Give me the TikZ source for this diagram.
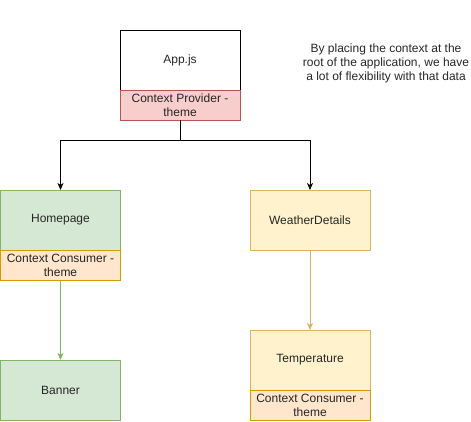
\documentclass[tikz,border=0pt]{standalone}
\usepackage{fontspec}
\setmainfont{Liberation Sans}
\usetikzlibrary{arrows.meta}
\definecolor{redfill}{HTML}{F8CECC}
\definecolor{redline}{HTML}{B85450}
\definecolor{greenfill}{HTML}{D5E8D4}
\definecolor{greenline}{HTML}{82B366}
\definecolor{yellowfill}{HTML}{FFF2CC}
\definecolor{yellowline}{HTML}{D6B656}
\definecolor{orangefill}{HTML}{FFE6CC}
\definecolor{orangeline}{HTML}{D79B00}
\begin{document}
\begin{tikzpicture}[x=1pt,y=-1pt,
  every node/.style={font=\fontsize{12}{14}\selectfont, text=black!85, inner sep=0pt, outer sep=0pt},
  comp/.style={minimum width=120pt, minimum height=60pt, line width=0.8pt, anchor=north west, align=center},
  sub/.style={minimum width=120pt, minimum height=30pt, line width=0.8pt, anchor=north west, align=center},
  arr/.style={line width=0.8pt, -{Stealth[length=7pt,width=6pt,inset=2pt]}}]
\useasboundingbox (0,0) rectangle (471,421);
\node[comp, draw=black, fill=white] (app) at (120,30) {App.js};
\node[sub, draw=redline, fill=redfill] (prov) at (120,90) {Context Provider -\\theme};
\node[comp, draw=greenline, fill=greenfill] (home) at (0.5,190) {Homepage};
\node[sub, draw=orangeline, fill=orangefill] (homecons) at (0.5,250) {Context Consumer -\\theme};
\node[comp, draw=yellowline, fill=yellowfill] (weather) at (250,190) {WeatherDetails};
\node[comp, draw=yellowline, fill=yellowfill] (temp) at (250,330) {Temperature};
\node[sub, draw=orangeline, fill=orangefill] (tempcons) at (250,390) {Context Consumer -\\theme};
\node[comp, draw=greenline, fill=greenfill] (banner) at (0.5,360) {Banner};
\node[align=center] (note) at (386,63) {By placing the context at the\\root of the application, we have\\a lot of flexibility with that data};
\coordinate (split) at (180,140);
\draw[arr, black] (prov.south) -- (split) -| (home.north);
\draw[arr, black] (split) -| (weather.north);
\draw[arr, greenline] (homecons.south) -- (banner.north);
\draw[arr, yellowline] (weather.south) -- (temp.north);
\end{tikzpicture}
\end{document}
